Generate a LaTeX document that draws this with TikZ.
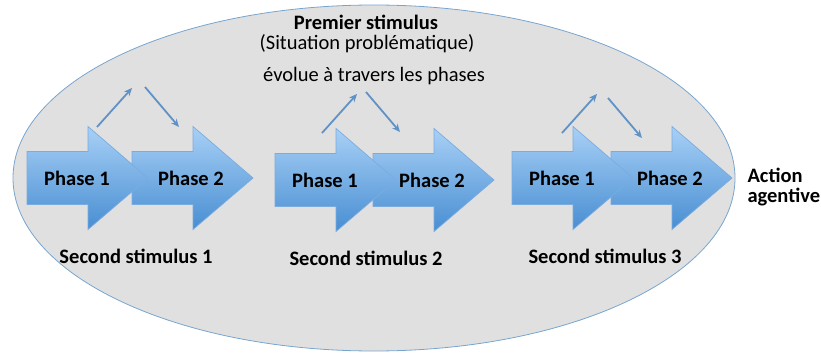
\documentclass[tikz,border=0pt]{standalone}
\usepackage{fontspec}
\setmainfont{Carlito}
\usetikzlibrary{positioning,arrows.meta}

\definecolor{ovalgray}{RGB}{224,224,224}
\definecolor{ovalline}{RGB}{120,165,208}
\definecolor{phasetop}{RGB}{168,208,246}
\definecolor{phasebot}{RGB}{72,142,210}
\definecolor{phaseline}{RGB}{122,172,224}
\definecolor{linkblue}{RGB}{96,146,198}

\begin{document}
\begin{tikzpicture}[x=1pt,y=1pt,
    phase/.style={draw=phaseline, line width=0.7pt, top color=phasetop, bottom color=phasebot},
    phasetext/.style={font=\bfseries\fontsize{20.5}{20}\selectfont},
    plain/.style={font=\fontsize{20.5}{20}\selectfont},
    link/.style={-{Stealth[length=8pt,width=7pt]}, linkblue, line width=1.8pt}]
    \useasboundingbox (0,0) rectangle (821,354);
    \draw[ovalline, fill=ovalgray, line width=0.8pt] (374,176) ellipse [x radius=361, y radius=173];
    \node[phasetext] (premier) at (366,332) {Premier stimulus};
    \node[plain] (situation) at (367,310) {(Situation problématique)};
    \node[plain] (evolue) at (374,278) {évolue à travers les phases};
    \foreach \a/\b/\y/\s/\k/\u/\p/\d/\q in {27/132/176/136/1/97/227/145/267,
            275/373/174/366/2/322/221/366/262,
            512/611/176/605/3/562/221/608/256}{
        % phase 2 first, the tip of phase 1 lies over it
        \draw[phase] (\b,\y-26.5) -- ++(61,0) -- ++(0,-25) -- (\b+121,\y)
            -- (\b+61,\y+51.5) -- ++(0,-25) -- (\b,\y+26.5) -- cycle;
        \draw[phase] (\a,\y-26.5) -- ++(61,0) -- ++(0,-25) -- (\a+121,\y)
            -- (\a+61,\y+51.5) -- ++(0,-25) -- (\a,\y+26.5) -- cycle;
        \node[phasetext] (p\k a) at (\a+50,\y) {Phase 1};
        \node[phasetext] (p\k b) at (\b+59,\y) {Phase 2};
        \node[phasetext] (s\k) at (\s,\y-78) {Second stimulus \k};
        \coordinate (up\k) at (\u,\p);
        \coordinate (top\k) at (\u+35,\p+39);
        \coordinate (dn\k) at (\d,\q);
        \coordinate (end\k) at (\d+34,\q-40);
        \draw[link] (up\k) -- (top\k);
        \draw[link] (dn\k) -- (end\k);
    }
    \node[phasetext, align=left, anchor=west] (action) at (744,167) {Action\\agentive};
\end{tikzpicture}
\end{document}
